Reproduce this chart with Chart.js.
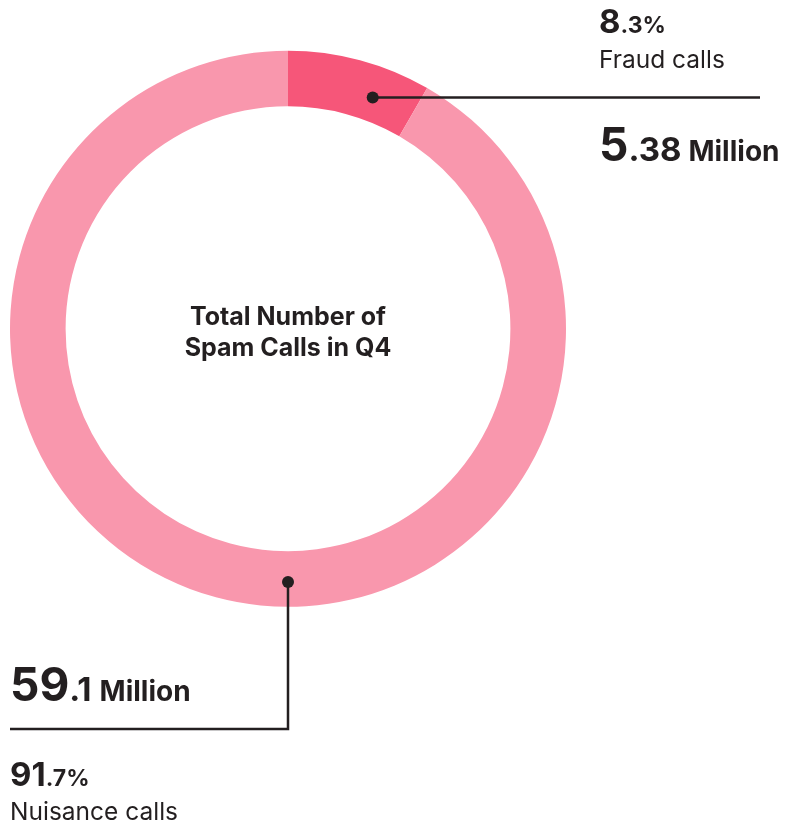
<!DOCTYPE html>
<html lang="en">
<head>
  <meta charset="UTF-8">
  <title>Spam Calls Q4</title>
  <script src="https://cdn.jsdelivr.net/npm/chart.js"></script>
  <style>
    * { box-sizing: border-box; }
    body { margin: 0; padding: 0; background: #fff; }
    canvas { display: block; }
  </style>
</head>
<body>
  <canvas id="grafica" width="791" height="827"></canvas>
  <script>
const categories = ['Fraud calls', 'Nuisance calls'];
const callsMillions = [5.38, 59.1];
const shareLabels = ['8.3%', '91.7%'];
const centerTitle = ['Total Number of', 'Spam Calls in Q4'];

const sliceColors = ['#f65679', '#f997ad'];
const ink = '#231f20';
const fontFam = 'Inter, "Noto Sans", sans-serif';

// split "5.38" -> ["5", ".38"], "8.3%" -> ["8", ".3%"]
function splitNum(s) {
  const i = s.indexOf('.');
  return i < 0 ? [s, ''] : [s.slice(0, i), s.slice(i)];
}

function drawParts(ctx, x, y, parts) {
  parts.forEach(p => {
    ctx.font = p.font;
    ctx.fillText(p.text, x, y);
    x += ctx.measureText(p.text).width + (p.gap || 0);
  });
}

const calloutPlugin = {
  id: 'callouts',
  afterDraw(chart) {
    const ctx = chart.ctx;
    const arcs = chart.getDatasetMeta(0).data;
    const fraud = arcs[0], nuis = arcs[1];
    const midR = (fraud.innerRadius + fraud.outerRadius) / 2;

    ctx.save();
    ctx.fillStyle = ink;
    ctx.strokeStyle = ink;
    ctx.lineWidth = 2.5;
    ctx.textBaseline = 'alphabetic';

    // center title
    ctx.textAlign = 'center';
    ctx.font = 'bold 25px ' + fontFam;
    ctx.fillText(centerTitle[0], fraud.x, 325);
    ctx.fillText(centerTitle[1], fraud.x, 356);
    ctx.textAlign = 'left';

    // fraud dot + leader to the right
    const a1 = fraud.startAngle + 0.67 * (fraud.endAngle - fraud.startAngle);
    const r1 = midR - 4;
    const d1 = { x: fraud.x + Math.cos(a1) * r1, y: fraud.y + Math.sin(a1) * r1 };
    ctx.beginPath();
    ctx.moveTo(d1.x, d1.y);
    ctx.lineTo(760, d1.y);
    ctx.stroke();
    ctx.beginPath();
    ctx.arc(d1.x, d1.y, 6, 0, Math.PI * 2);
    ctx.fill();

    // nuisance dot at bottom + elbow leader to the left
    const a2 = Math.PI / 2;
    const r2 = midR + 3;
    const d2 = { x: nuis.x + Math.cos(a2) * r2, y: nuis.y + Math.sin(a2) * r2 };
    ctx.beginPath();
    ctx.moveTo(d2.x, d2.y);
    ctx.lineTo(d2.x, 729);
    ctx.lineTo(10, 729);
    ctx.stroke();
    ctx.beginPath();
    ctx.arc(d2.x, d2.y, 6, 0, Math.PI * 2);
    ctx.fill();

    // fraud labels
    const fp = splitNum(shareLabels[0]);
    drawParts(ctx, 599, 33, [
      { text: fp[0], font: 'bold 33px ' + fontFam },
      { text: fp[1], font: 'bold 23px ' + fontFam }
    ]);
    ctx.font = '24.5px ' + fontFam;
    ctx.fillText(categories[0], 599, 68);
    const fv = splitNum(callsMillions[0].toFixed(2));
    drawParts(ctx, 599, 161, [
      { text: fv[0], font: 'bold 46px ' + fontFam },
      { text: fv[1], font: 'bold 33px ' + fontFam, gap: 7 },
      { text: 'Million', font: 'bold 28px ' + fontFam }
    ]);

    // nuisance labels
    const nv = splitNum(callsMillions[1].toFixed(1));
    drawParts(ctx, 10, 701, [
      { text: nv[0], font: 'bold 46px ' + fontFam },
      { text: nv[1], font: 'bold 33px ' + fontFam, gap: 8 },
      { text: 'Million', font: 'bold 28px ' + fontFam }
    ]);
    const np = splitNum(shareLabels[1]);
    drawParts(ctx, 10, 786, [
      { text: np[0], font: 'bold 33px ' + fontFam },
      { text: np[1], font: 'bold 23px ' + fontFam }
    ]);
    ctx.font = '24.5px ' + fontFam;
    ctx.fillText(categories[1], 10, 820);

    ctx.restore();
  }
};

new Chart(document.getElementById('grafica').getContext('2d'), {
  type: 'doughnut',
  data: {
    labels: categories,
    datasets: [{
      data: callsMillions,
      backgroundColor: sliceColors,
      borderWidth: 0
    }]
  },
  options: {
    responsive: false,
    animation: false,
    cutout: '80%',
    layout: { padding: { left: 10, top: 50.5, right: 225, bottom: 220 } },
    plugins: {
      legend: { display: false },
      tooltip: { enabled: false }
    }
  },
  plugins: [calloutPlugin]
});
  </script>
</body>
</html>
